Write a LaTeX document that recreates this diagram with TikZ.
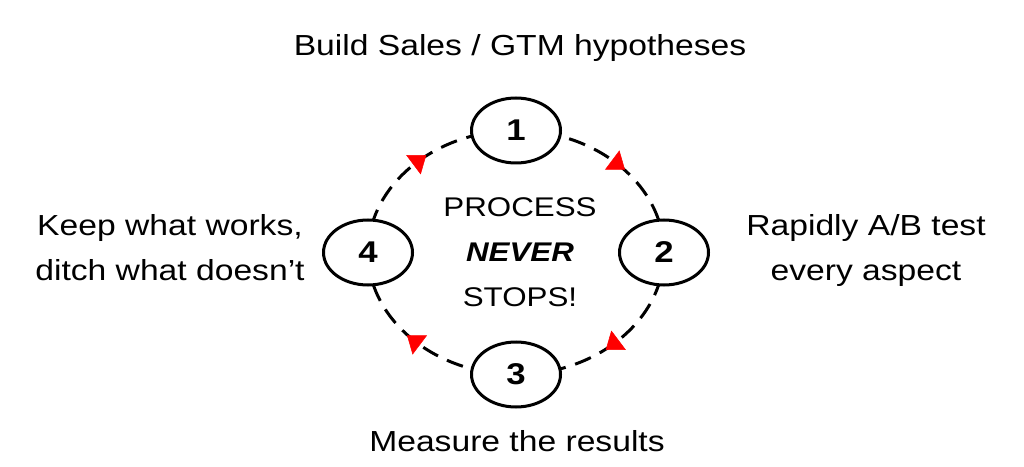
\documentclass[tikz,border=0pt]{standalone}
\usepackage{fontspec}
\setmainfont{Liberation Sans}[FakeStretch=1.16]
\usetikzlibrary{positioning, shapes.geometric, arrows.meta, decorations.markings, backgrounds}

\begin{document}
\begin{tikzpicture}
        [
            x=1pt, y=1pt,
            stage/.style={ellipse, draw, fill=white, line width=3pt,
                          minimum width=89pt, minimum height=65pt, inner sep=0pt,
                          font=\fontsize{30}{30}\selectfont\bfseries},
            flow/.style={line width=3pt, dash pattern=on 17pt off 10pt,
                         postaction={decorate},
                         decoration={markings, mark=at position 0.5 with
                           {\arrow[red, xshift=12pt, line width=0.5pt]{Triangle[length=16pt, width=24pt]}}}},
            caption/.style={align=center, font=\fontsize{29}{45}\selectfont}
        ]
        \useasboundingbox (0,0) rectangle (1024,466);
        \coordinate (c) at (516,213.5);
        \node (n1) [stage, above=88pt of c] {1};
        \node (n2) [stage, right=102pt of c] {2};
        \node (n3) [stage, below=88pt of c] {3};
        \node (n4) [stage, left=102pt of c] {4};
        \begin{pgfonlayer}{background}
        \draw [flow] (n1.center) .. controls +(81,0) and +(0,67) .. (n2.center);
        \draw [flow] (n2.center) .. controls +(0,-67) and +(81,0) .. (n3.center);
        \draw [flow] (n3.center) .. controls +(-81,0) and +(0,-67) .. (n4.center);
        \draw [flow] (n4.center) .. controls +(0,67) and +(-81,0) .. (n1.center);
        \end{pgfonlayer}
        \node (motto) [align=center, font=\fontsize{27}{45}\selectfont]
            at ([xshift=4pt]c) {PROCESS\\\textbf{\textit{NEVER}}\\STOPS!};
        \node (hyp) [caption, anchor=base] at (520,410) {Build Sales / GTM hypotheses};
        \node (test) [caption] at (866,215) {Rapidly A/B test\\every aspect};
        \node (meas) [caption, anchor=base] at (517,15) {Measure the results};
        \node (keep) [caption] at (170,218) {Keep what works,\\ditch what doesn’t};
\end{tikzpicture}
\end{document}
